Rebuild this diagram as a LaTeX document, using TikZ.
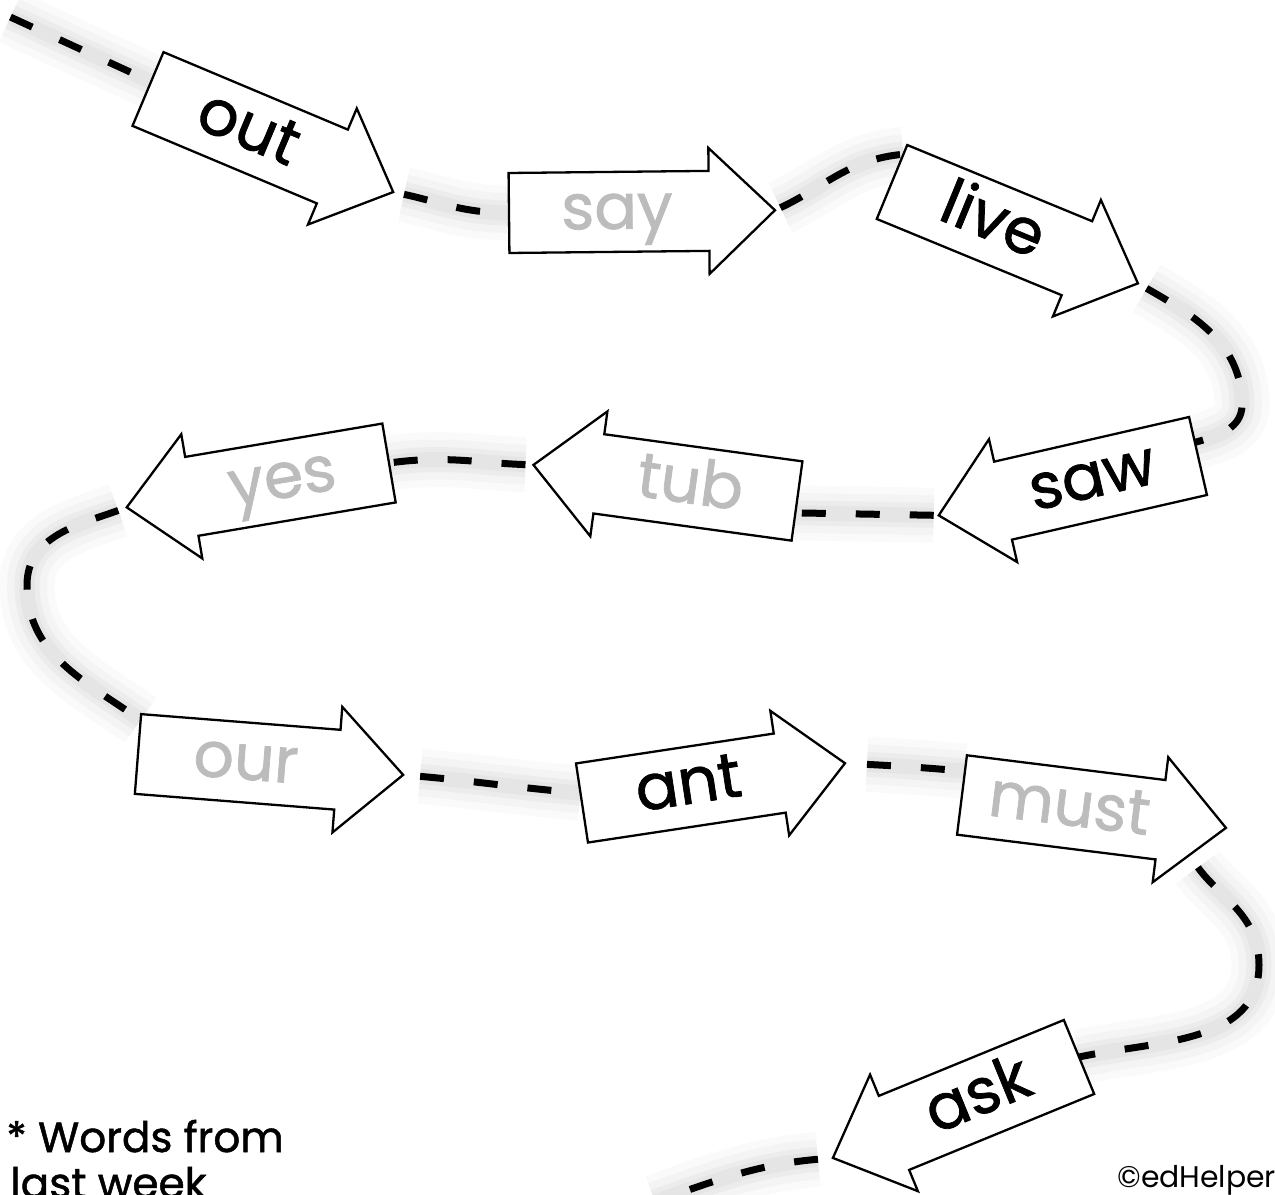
\documentclass[tikz,border=0pt]{standalone}
\usepackage{fontspec}
\setmainfont{Poppins}
\newfontfamily\wordfont{Poppins}[FakeBold=1.2]
\usetikzlibrary{calc}
\pgfdeclarelayer{bg}
\pgfsetlayers{bg,main}
\definecolor{wgray}{RGB}{188,188,188}
\tikzset{
  arrowline/.style={draw=black, fill=white, line width=0.046cm, line join=miter},
  wordtext/.style={anchor=base, inner sep=0pt, font=\wordfont\fontsize{36}{40}\selectfont},
  notetext/.style={anchor=base west, inner sep=0pt, font=\wordfont\fontsize{24}{28}\selectfont},
  copytext/.style={anchor=base west, inner sep=0pt, font=\fontsize{17}{20}\selectfont},
  dashpath/.style={draw=black, line width=0.14cm, dash pattern=on 0.48cm off 0.6cm,
     preaction={draw=black, solid, line width=1.1cm, opacity=0.02},
     preaction={draw=black, solid, line width=0.8cm, opacity=0.025},
     preaction={draw=black, solid, line width=0.5cm, opacity=0.03},
     preaction={draw=black, solid, line width=0.3cm, opacity=0.03}},
}
% #1 name, #2 tail centre, #3 angle, #4 direction (1 right, -1 left), #5 word, #6 colour
\newcommand\warrow[6]{%
  \begin{scope}[shift={#2}, rotate=#3]
    \draw[arrowline] (0,40) -- (#4*200,40) -- (#4*200,63) -- (#4*266,0)
      -- (#4*200,-63) -- (#4*200,-40) -- (0,-40) -- cycle;
    \coordinate (#1-tail) at (0,0);
    \coordinate (#1-tip) at (#4*266,0);
    \coordinate (#1-ta) at (0,40);
    \coordinate (#1-tb) at (0,-40);
    \coordinate (#1-ha) at (#4*200,63);
    \coordinate (#1-hb) at (#4*200,-63);
    \node[wordtext, text=#6, rotate=#3] (#1) at (#4*108,-17) {#5};
  \end{scope}}
\begin{document}
\begin{tikzpicture}[x=0.02cm, y=0.02cm]
\useasboundingbox (0,0) rectangle (1275,-1195);

\warrow{out}{(148,-89)}{-22.8}{1}{out}{black}
\warrow{say}{(509,-213)}{0.6}{1}{say}{wgray}
\warrow{live}{(892,-182)}{-22.4}{1}{live}{black}
\warrow{saw}{(1198,-456)}{12.9}{-1}{saw}{black}
\warrow{tub}{(797,-501)}{-7.8}{-1}{tub}{wgray}
\warrow{yes}{(389,-463)}{9.6}{-1}{yes}{wgray}
\warrow{our}{(138,-754)}{-4.5}{1}{our}{wgray}
\warrow{ant}{(582,-803)}{8.6}{1}{ant}{black}
\warrow{must}{(962,-795)}{-7.1}{1}{must}{wgray}
\warrow{ask}{(1079,-1057)}{22.3}{-1}{ask}{black}

\coordinate (p1s) at (-5,-10);
\coordinate (via4) at (1242,-405);
\coordinate (via7) at (27,-585);
\coordinate (via10) at (1259,-965);
\coordinate (p11e) at (655,-1202);

\begin{pgfonlayer}{bg}
\draw[dashpath, shorten <=0.34cm] (p1s) -- ($(out-tail)!0.2!(out-ta)$);
\draw[dashpath, shorten <=0.22cm] (out-tip) to[out=-12,in=180] (say-tail);
\draw[dashpath, shorten <=0.12cm] (say-tip) to[out=25,in=185] ($(live-tail)!0.75!(live-ta)$);
\draw[dashpath, shorten <=0.2cm] (live-tip) to[out=-30,in=90] (via4) to[out=-90,in=15] ($(saw-tail)!0.35!(saw-ta)$);
\draw[dashpath, shorten <=0.1cm] (saw-tip) -- ($(tub-tail)!0.3!(tub-tb)$);
\draw[dashpath, shorten <=0.16cm] (tub-tip) to[out=178,in=8] (yes-tail);
\draw[dashpath, shorten <=0.18cm] (yes-tip) to[out=200,in=90] (via7) to[out=-90,in=145] ($(our-tail)!0.85!(our-ta)$);
\draw[dashpath, shorten <=0.34cm] (our-tip) to[out=-5,in=175] ($(ant-tail)!0.25!(ant-ta)$);
\draw[dashpath, shorten <=0.44cm] (ant-tip) to[out=-3,in=175] ($(must-tail)!0.6!(must-ta)$);
\draw[dashpath, shorten <=0.3cm] ($(must-tip)!0.5!(must-hb)$) to[out=-55,in=90] (via10) to[out=-90,in=12] (ask-tail);
\draw[dashpath, shorten <=0.3cm] (ask-tip) to[out=185,in=20] (p11e);
\end{pgfonlayer}

\node[notetext] (note1) at (6,-1152) {* Words from};
\node[notetext] (note2) at (10,-1198) {last week};
\node[copytext] (copy) at (1117,-1187) {©edHelper};
\end{tikzpicture}
\end{document}
